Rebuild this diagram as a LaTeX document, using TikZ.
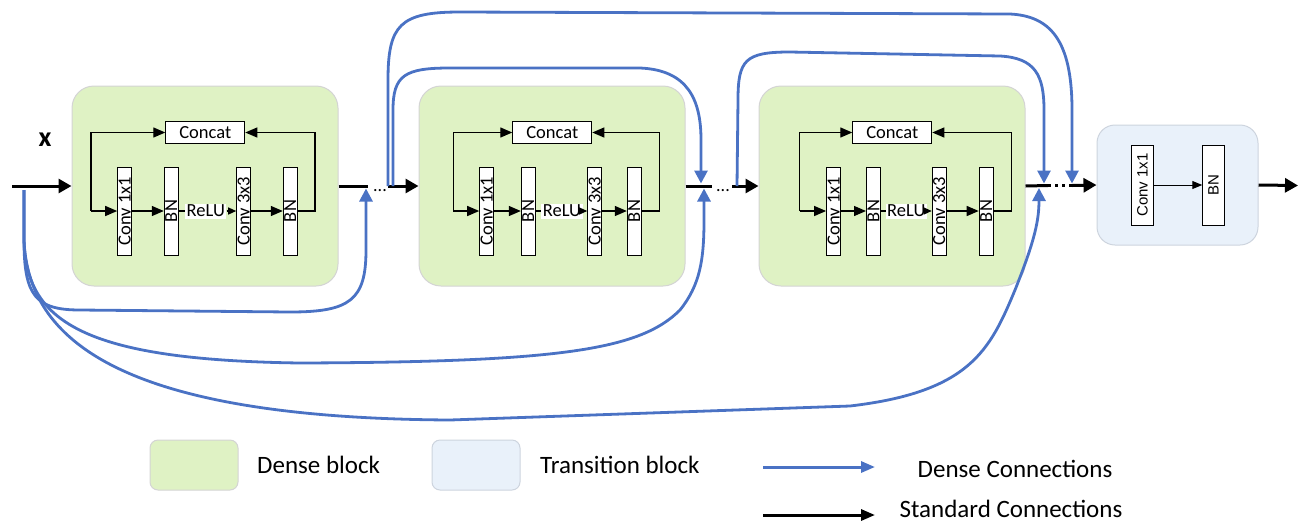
\documentclass[tikz,border=0pt]{standalone}
\usepackage{fontspec}
\setmainfont{Carlito}
\newfontfamily\arialf{Liberation Sans}
\usetikzlibrary{arrows.meta}
\definecolor{dgreen}{RGB}{223,242,196}
\definecolor{dborder}{RGB}{212,212,212}
\definecolor{tblue}{RGB}{233,241,250}
\definecolor{tborder}{RGB}{205,212,222}
\definecolor{lblue}{RGB}{74,114,196}
\tikzset{
 dblock/.style={draw=dborder, fill=dgreen, line width=1pt, rounded corners=22pt},
 tblock/.style={draw=tborder, fill=tblue, line width=1pt, rounded corners=18pt},
 layer/.style={draw=black, fill=white, line width=1pt, minimum width=14pt, minimum height=88pt, inner sep=0pt},
 layertxt/.style={rotate=90, font=\fontsize{18.5}{20}\selectfont, inner sep=0pt},
 catbox/.style={draw=black, fill=white, line width=1pt, minimum width=79pt, minimum height=21.5pt, inner sep=0pt, font=\fontsize{18.5}{20}\selectfont},
 relubox/.style={fill=white, inner sep=1.5pt, font=\fontsize{18.5}{20}\selectfont},
 inar/.style={line width=1.3pt, -{Triangle[length=12pt,width=10pt]}},
 inln/.style={line width=1.3pt},
 smar/.style={line width=1.3pt, -{Triangle[length=8pt,width=7pt]}},
 stdar/.style={line width=3pt, -{Triangle[length=13pt,width=14pt]}},
 stdln/.style={line width=3pt},
 densear/.style={draw=lblue, line width=2.8pt, -{Triangle[length=13pt,width=13pt]}},
 legtxt/.style={font=\fontsize{25}{28}\selectfont, inner sep=0pt},
}
% #1 prefix, #2 left x, #3 left loop x, #4 conv1 x, #5 bn1 x, #6 relu x, #7 conv3 x, #8 bn2 x, #9 right loop x
\newcommand\denseblk[9]{%
 \node[dblock, minimum width=266pt, minimum height=200pt] (#1box) at (#2+133,186) {};
 \node[catbox] (#1cat) at (#2+133.3,132.5) {Concat};
 \node[layer] (#1c1) at (#4,211) {};
 \node[layertxt] (#1c1t) at (#1c1) {Conv 1x1};
 \node[layer] (#1b1) at (#5,211) {};
 \node[layertxt] (#1b1t) at (#1b1) {BN};
 \node[layer] (#1c3) at (#7,211) {};
 \node[layertxt] (#1c3t) at (#1c3) {Conv 3x3};
 \node[layer] (#1b2) at (#8,211) {};
 \node[layertxt] (#1b2t) at (#1b2) {BN};
 \node[relubox] (#1r) at (#6,211) {ReLU};
 \coordinate (#1tl) at (#3,132.5);
 \coordinate (#1bl) at (#3,211);
 \coordinate (#1tr) at (#9,132.5);
 \coordinate (#1br) at (#9,211);
 \draw[inar] (#1bl) -- (#1tl) -- (#1cat.west);
 \draw[inar] (#1bl) -- (#1c1.west);
 \draw[inar] (#1c1.east) -- (#1b1.west);
 \draw[inln] (#1b1.east) -- (#1r.west);
 \draw[smar] (#1r.east) -- (#1c3.west);
 \draw[inar] (#1c3.east) -- (#1b2.west);
 \draw[inar] (#1b2.east) -- (#1br) -- (#1tr) -- (#1cat.east);
}
\begin{document}
\begin{tikzpicture}[x=1pt,y=-1pt]
\useasboundingbox (0,0) rectangle (1306,523);

\denseblk{b1}{72}{91}{124.7}{171.3}{205.8}{243.7}{290.3}{315}
\denseblk{b2}{419}{453.3}{486.7}{528.3}{562}{594.7}{634.3}{659.3}
\denseblk{b3}{759}{799.7}{833.6}{873.5}{906.3}{939.2}{986.2}{1011.3}

% transition block
\node[tblock, minimum width=161pt, minimum height=120pt] (tbox) at (1177.5,185) {};
\node[layer, minimum width=21.5pt, minimum height=80pt] (tc1) at (1142.5,185) {};
\node[rotate=90, font=\arialf\fontsize{15}{17}\selectfont, inner sep=0pt] (tc1t) at (tc1) {Conv 1x1};
\node[layer, minimum width=21.5pt, minimum height=80pt] (tb1) at (1213.5,185) {};
\node[rotate=90, font=\arialf\fontsize{15}{17}\selectfont, inner sep=0pt] (tb1t) at (tb1) {BN};
\draw[line width=1pt, -{Triangle[length=10pt,width=8pt]}] (tc1.east) -- (tb1.west);

% input label
\node[font=\bfseries\fontsize{28}{30}\selectfont, inner sep=0pt] (xlab) at (45,140) {x};

% main path
\coordinate (in) at (12,186);
\coordinate (o1) at (368,186);
\coordinate (s2) at (388,186);
\coordinate (o2) at (712,186);
\coordinate (s3) at (732,186);
\coordinate (o3) at (1048,185.5);
\coordinate (s4) at (1072,185.5);
\coordinate (out) at (1298,185.5);
\draw[stdar] (in) -- (b1box.west);
\draw[stdln] (b1box.east) -- (o1);
\node[font=\fontsize{18}{20}\selectfont, inner sep=0pt] (d1) at (380,191) {...};
\draw[stdar] (s2) -- (b2box.west);
\draw[stdln] (b2box.east) -- (o2);
\node[font=\fontsize{18}{20}\selectfont, inner sep=0pt] (d2) at (723,191) {...};
\draw[stdar] (s3) -- (b3box.west);
\draw[stdln] (b3box.east) -- (o3);
\draw[line width=3pt, dash pattern=on 3pt off 4pt] (o3) -- (s4);
\draw[stdar] (s4) -- (tbox.west);
\draw[stdar] (tbox.east) -- (out);

% dense connections from the input (below)
\coordinate (src) at (24,190);
\coordinate (eA) at (366,188.5);
\coordinate (eB) at (704,188.5);
\coordinate (eC) at (1039,188);
\draw[densear] (src) -- (24,240) .. controls (24,295) and (35,310) .. (80,310) -- (290,312) .. controls (350,312) and (366,300) .. (366,250) -- (eA);
\draw[densear] (src) -- (24,240) .. controls (26,320) and (80,360) .. (300,363) .. controls (560,362) and (640,350) .. (680,310) .. controls (700,285) and (704,260) .. (704,220) -- (eB);
\draw[densear] (src) -- (24,240) .. controls (28,340) and (120,418) .. (450,420) -- (850,406) .. controls (970,392) and (990,350) .. (1015,290) .. controls (1035,240) and (1039,220) .. (eC);

% dense connections over the top
\coordinate (sD) at (388,186);
\coordinate (sE) at (393,186);
\coordinate (sF) at (737,186);
\coordinate (eD) at (1072,183.5);
\coordinate (eE) at (701,183.5);
\coordinate (eF) at (1044,183.5);
\draw[densear] (sD) -- (388,80) .. controls (388,25) and (400,12) .. (460,12) -- (1010,14) .. controls (1050,16) and (1072,40) .. (1072,110) -- (eD);
\draw[densear] (sE) -- (393,110) .. controls (393,75) and (405,68) .. (450,68) -- (640,68) .. controls (688,70) and (701,100) .. (701,140) -- (eE);
\draw[densear] (sF) -- (738,100) .. controls (738,60) and (745,52) .. (790,52) -- (1000,56) .. controls (1035,58) and (1044,75) .. (1044,110) -- (eF);

% legend
\node[dblock, rounded corners=8pt, minimum width=88pt, minimum height=50pt] (lg1) at (194,465) {};
\node[legtxt, anchor=west] (lg1t) at (257,465) {Dense block};
\node[tblock, rounded corners=8pt, minimum width=88pt, minimum height=50pt] (lg2) at (476,465) {};
\node[legtxt, anchor=west] (lg2t) at (540,465) {Transition block};
\coordinate (la1) at (763,467);
\coordinate (lb1) at (875,467);
\draw[draw=lblue, line width=3pt, -{Triangle[length=14pt,width=11pt]}] (la1) -- (lb1);
\node[legtxt] (lg3t) at (1015,469) {Dense Connections};
\coordinate (la2) at (763,515);
\coordinate (lb2) at (875,515);
\draw[line width=3pt, -{Triangle[length=14pt,width=11pt]}] (la2) -- (lb2);
\node[legtxt] (lg4t) at (1011,509) {Standard Connections};
\end{tikzpicture}
\end{document}
